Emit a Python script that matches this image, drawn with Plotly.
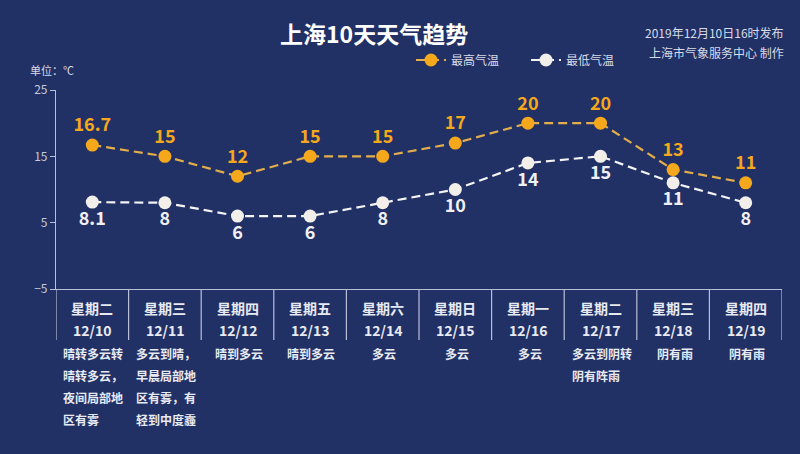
import plotly.graph_objects as go

days = ["星期二", "星期三", "星期四", "星期五", "星期六", "星期日", "星期一", "星期二", "星期三", "星期四"]
dates = ["12/10", "12/11", "12/12", "12/13", "12/14", "12/15", "12/16", "12/17", "12/18", "12/19"]
high = [16.7, 15, 12, 15, 15, 17, 20, 20, 13, 11]
low = [8.1, 8, 6, 6, 8, 10, 14, 15, 11, 8]
weather = [
    ["晴转多云转", "晴转多云，", "夜间局部地", "区有雾"],
    ["多云到晴，", "早晨局部地", "区有雾，有", "轻到中度霾"],
    ["晴到多云"],
    ["晴到多云"],
    ["多云"],
    ["多云"],
    ["多云"],
    ["多云到阴转", "阴有阵雨"],
    ["阴有雨"],
    ["阴有雨"],
]
y_ticks = [-5, 5, 15, 25]

FONT = "Noto Sans CJK SC"
BG = "#213166"
ORANGE = "#f5a81c"
ORANGE_LINE = "#e2ae4c"
WHITE_PT = "#f2efea"
TXT = "#e8eaf2"

xs = list(range(len(days)))

fig = go.Figure()
fig.add_trace(go.Scatter(
    x=xs, y=high, name="最高气温", mode="lines+markers+text",
    line=dict(color=ORANGE_LINE, width=2.2, dash="9px,5px"),
    marker=dict(color=ORANGE, size=13),
    text=[f"{v:g}" for v in high], textposition="top center",
    textfont=dict(family=FONT, size=18, color=ORANGE, weight="bold"),
))
fig.add_trace(go.Scatter(
    x=xs, y=low, name="最低气温", mode="lines+markers+text",
    line=dict(color="#f4f4f4", width=2.2, dash="9px,5px"),
    marker=dict(color=WHITE_PT, size=13),
    text=[f"{v:g}" for v in low], textposition="bottom center",
    textfont=dict(family=FONT, size=18, color="#f0f0f4", weight="bold"),
))

W, H = 800, 454
L, R, T, B = 56, 18, 90, 165
plot_h = H - T - B

annotations = []
shapes = []
for k in range(len(days) + 1):
    shapes.append(dict(type="line", xref="x", yref="paper", x0=k - 0.5, x1=k - 0.5,
                       y0=0, y1=-51 / plot_h, line=dict(color="#b9bfd6", width=1.2)))
for k, (d, dt, lines) in enumerate(zip(days, dates, weather)):
    annotations.append(dict(x=k, y=0, xref="x", yref="paper", text=f"<b>{d}</b>",
                            showarrow=False, yanchor="middle", yshift=-19,
                            font=dict(family=FONT, size=14, color=TXT)))
    annotations.append(dict(x=k, y=0, xref="x", yref="paper", text=f"<b>{dt}</b>",
                            showarrow=False, yanchor="middle", yshift=-41,
                            font=dict(family=FONT, size=14, color=TXT)))
    maxlen = max(len(s) for s in lines)
    fs = 12.4
    for i, s in enumerate(lines):
        annotations.append(dict(x=k, y=0, xref="x", yref="paper", text=f"<b>{s}</b>",
                                showarrow=False, yanchor="middle", xanchor="left",
                                xshift=-maxlen * fs / 2, yshift=-64 - 22 * i,
                                font=dict(family=FONT, size=12, color=TXT)))

def px_x(p):
    return (p - L) / (W - L - R)

def px_y(p):
    return (H - B - p) / plot_h

annotations += [
    dict(x=px_x(374), y=px_y(33), xref="paper", yref="paper", text="<b>上海10天天气趋势</b>",
         showarrow=False, xanchor="center", yanchor="middle",
         font=dict(family=FONT, size=23, color="#ffffff")),
    dict(x=px_x(786), y=px_y(33), xref="paper", yref="paper", text="2019年12月10日16时发布",
         showarrow=False, xanchor="right", yanchor="middle",
         font=dict(family=FONT, size=12, color="#d8dce8")),
    dict(x=px_x(786), y=px_y(52), xref="paper", yref="paper", text="上海市气象服务中心 制作",
         showarrow=False, xanchor="right", yanchor="middle",
         font=dict(family=FONT, size=12, color="#d8dce8")),
    dict(x=px_x(28), y=px_y(70), xref="paper", yref="paper", text="单位：℃",
         showarrow=False, xanchor="left", yanchor="middle",
         font=dict(family=FONT, size=11, color="#d8dce8")),
]

fig.update_layout(
    width=W, height=H,
    paper_bgcolor=BG, plot_bgcolor=BG,
    margin=dict(l=L, r=R, t=T, b=B),
    showlegend=True,
    legend=dict(orientation="h", x=px_x(411), y=px_y(60), xanchor="left", yanchor="middle",
                font=dict(family=FONT, size=12, color="#d8dce8"), bgcolor="rgba(0,0,0,0)",
                itemwidth=30, entrywidth=70, entrywidthmode="pixels"),
    xaxis=dict(range=[-0.5, len(days) - 0.5], showgrid=False, zeroline=False,
               showticklabels=False, ticks="", showline=True, linecolor="#b9bfd6", linewidth=1.2,
               fixedrange=True),
    yaxis=dict(range=[-5, 25], tickvals=y_ticks, showgrid=False, zeroline=False,
               showline=True, linecolor="#b9bfd6", linewidth=1.2, ticks="outside",
               ticklen=5, tickcolor="#b9bfd6", tickfont=dict(family=FONT, size=12, color="#c4c8d8"),
               fixedrange=True),
    annotations=annotations, shapes=shapes,
)

fig.write_html("out.html", config={"displayModeBar": False},
               post_script="document.body.style.margin='0';")
